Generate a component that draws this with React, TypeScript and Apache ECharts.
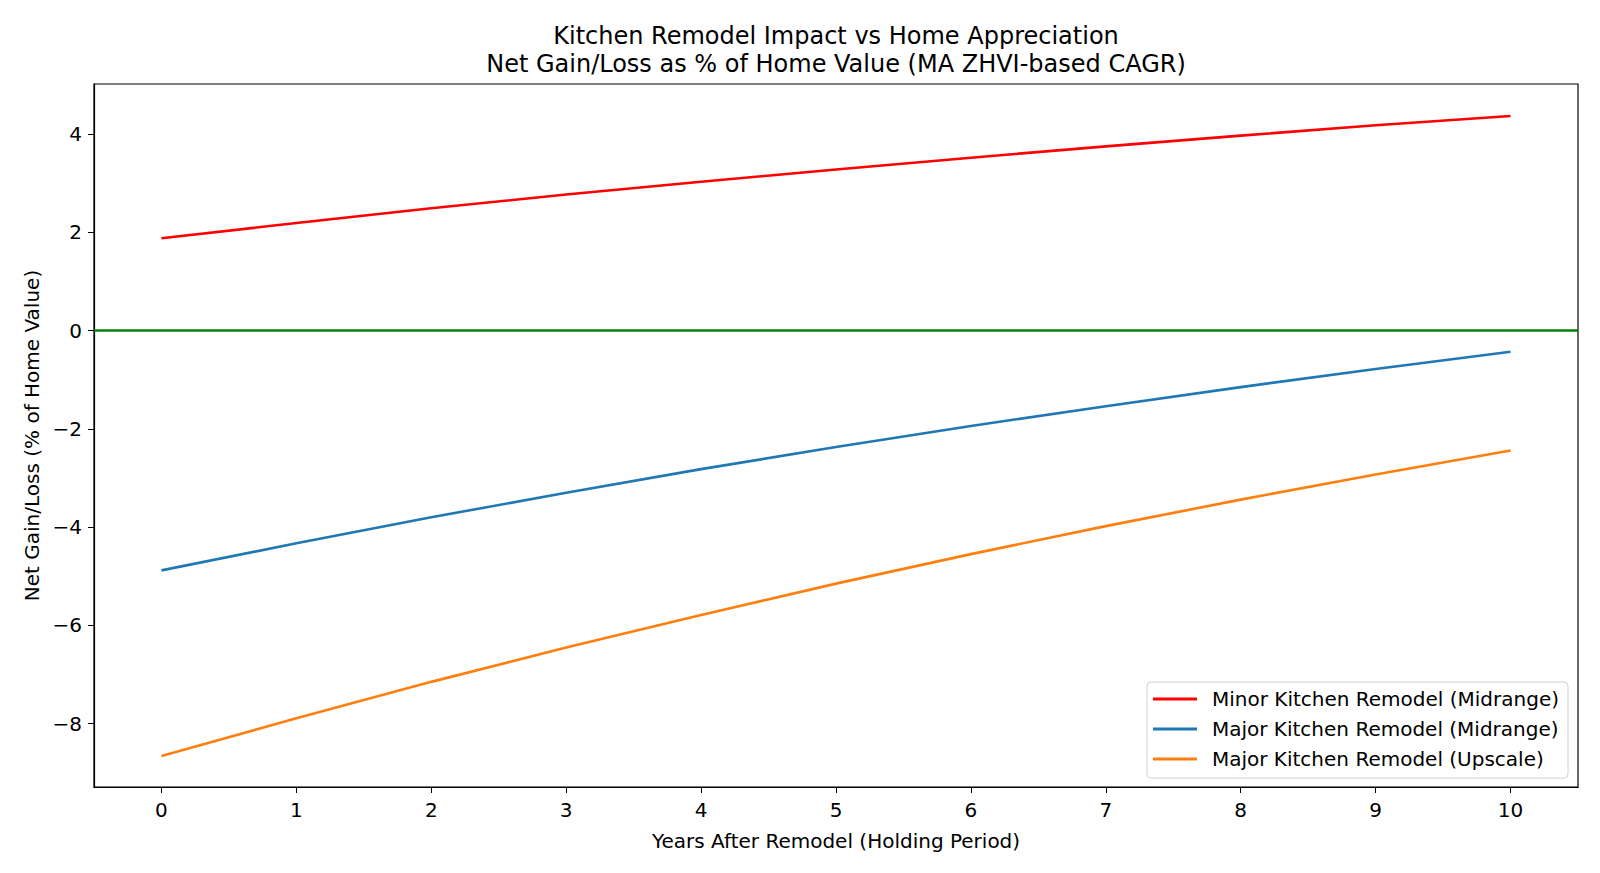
import React, { useEffect, useRef } from "react";
import * as echarts from "echarts";

const years = ["0", "1", "2", "3", "4", "5", "6", "7", "8", "9", "10"];
const minorMidrange = [1.88, 2.19, 2.49, 2.77, 3.03, 3.28, 3.52, 3.75, 3.97, 4.18, 4.37];
const majorMidrange = [-4.88, -4.33, -3.8, -3.3, -2.82, -2.37, -1.94, -1.54, -1.15, -0.78, -0.43];
const majorUpscale = [-8.66, -7.89, -7.15, -6.45, -5.79, -5.15, -4.55, -3.98, -3.44, -2.93, -2.44];
const yTicks = [-8, -6, -4, -2, 0, 2, 4];
const seriesNames = [
  "Minor Kitchen Remodel (Midrange)",
  "Major Kitchen Remodel (Midrange)",
  "Major Kitchen Remodel (Upscale)",
];
const titleLines = [
  "Kitchen Remodel Impact vs Home Appreciation",
  "Net Gain/Loss as % of Home Value (MA ZHVI-based CAGR)",
];
const xName = "Years After Remodel (Holding Period)";
const yName = "Net Gain/Loss (% of Home Value)";

const FONT = "DejaVu Sans";

export default function App() {
  const ref = useRef<HTMLDivElement>(null);
  useEffect(() => {
    if (!ref.current) return;
    const chart = echarts.init(ref.current, undefined, { renderer: "svg" });
    const axisCenterX = (94 + 1578) / 2;
    const axisCenterY = (84 + 787) / 2;
    chart.setOption({
      animation: false,
      backgroundColor: "#fff",
      textStyle: { fontFamily: FONT },
      grid: {
        left: 94,
        right: 22,
        top: 84,
        bottom: 86,
        show: true,
        borderColor: "#000",
        borderWidth: 1.2,
        backgroundColor: "transparent",
      },
      graphic: [
        {
          type: "text",
          x: axisCenterX,
          y: 36,
          style: {
            text: titleLines[0],
            font: `24px '${FONT}'`,
            fill: "#000",
            textAlign: "center",
            textVerticalAlign: "middle",
          },
        },
        {
          type: "text",
          x: axisCenterX,
          y: 64,
          style: {
            text: titleLines[1],
            font: `24px '${FONT}'`,
            fill: "#000",
            textAlign: "center",
            textVerticalAlign: "middle",
          },
        },
        {
          type: "text",
          x: axisCenterX,
          y: 841,
          style: {
            text: xName,
            font: `20px '${FONT}'`,
            fill: "#000",
            textAlign: "center",
            textVerticalAlign: "middle",
          },
        },
        {
          type: "text",
          x: 32,
          y: axisCenterY,
          rotation: Math.PI / 2,
          style: {
            text: yName,
            font: `20px '${FONT}'`,
            fill: "#000",
            textAlign: "center",
            textVerticalAlign: "middle",
          },
        },
      ],
      legend: {
        orient: "vertical",
        right: 32,
        bottom: 95,
        padding: [7, 9, 9, 6],
        itemGap: 10,
        itemWidth: 44,
        itemHeight: 3,
        icon: "rect",
        backgroundColor: "rgba(255,255,255,0.8)",
        borderColor: "#d0d0d0",
        borderWidth: 1,
        borderRadius: 4,
        textStyle: {
          fontFamily: FONT,
          fontSize: 20,
          color: "#000",
          lineHeight: 20,
          padding: [0, 0, 0, 10],
        },
        data: seriesNames,
      },
      xAxis: {
        type: "category",
        data: years,
        boundaryGap: true,
        axisLine: { show: true, onZero: false, lineStyle: { color: "#000", width: 1.2 } },
        axisTick: { show: true, alignWithLabel: true, length: 6, lineStyle: { color: "#000" } },
        axisLabel: { fontFamily: FONT, fontSize: 20, color: "#000", margin: 13 },
        splitLine: { show: false },
      },
      yAxis: {
        type: "value",
        min: -9.29,
        max: 5.02,
        axisLine: { show: true, lineStyle: { color: "#000", width: 1.2 } },
        axisTick: { show: true, length: 6, lineStyle: { color: "#000" }, customValues: yTicks },
        axisLabel: {
          fontFamily: FONT,
          fontSize: 20,
          color: "#000",
          margin: 12,
          customValues: yTicks,
          formatter: (v: number) => (v < 0 ? "\u2212" + Math.abs(v) : String(v)),
        },
        splitLine: { show: false },
      },
      series: [
        {
          name: seriesNames[0],
          type: "line",
          data: minorMidrange,
          symbol: "none",
          lineStyle: { color: "#ff0000", width: 2.6 },
          itemStyle: { color: "#ff0000" },
          markLine: {
            silent: true,
            symbol: ["none", "none"],
            label: { show: false },
            lineStyle: { color: "#008000", width: 2.6, type: "solid" },
            data: [{ yAxis: 0 }],
          },
        },
        {
          name: seriesNames[1],
          type: "line",
          data: majorMidrange,
          symbol: "none",
          lineStyle: { color: "#1f77b4", width: 2.6 },
          itemStyle: { color: "#1f77b4" },
        },
        {
          name: seriesNames[2],
          type: "line",
          data: majorUpscale,
          symbol: "none",
          lineStyle: { color: "#ff7f0e", width: 2.6 },
          itemStyle: { color: "#ff7f0e" },
        },
      ],
    });
    return () => chart.dispose();
  }, []);
  return (
    <div
      ref={ref}
      style={{ position: "fixed", left: 0, top: 0, width: 1600, height: 873, background: "#fff" }}
    />
  );
}
